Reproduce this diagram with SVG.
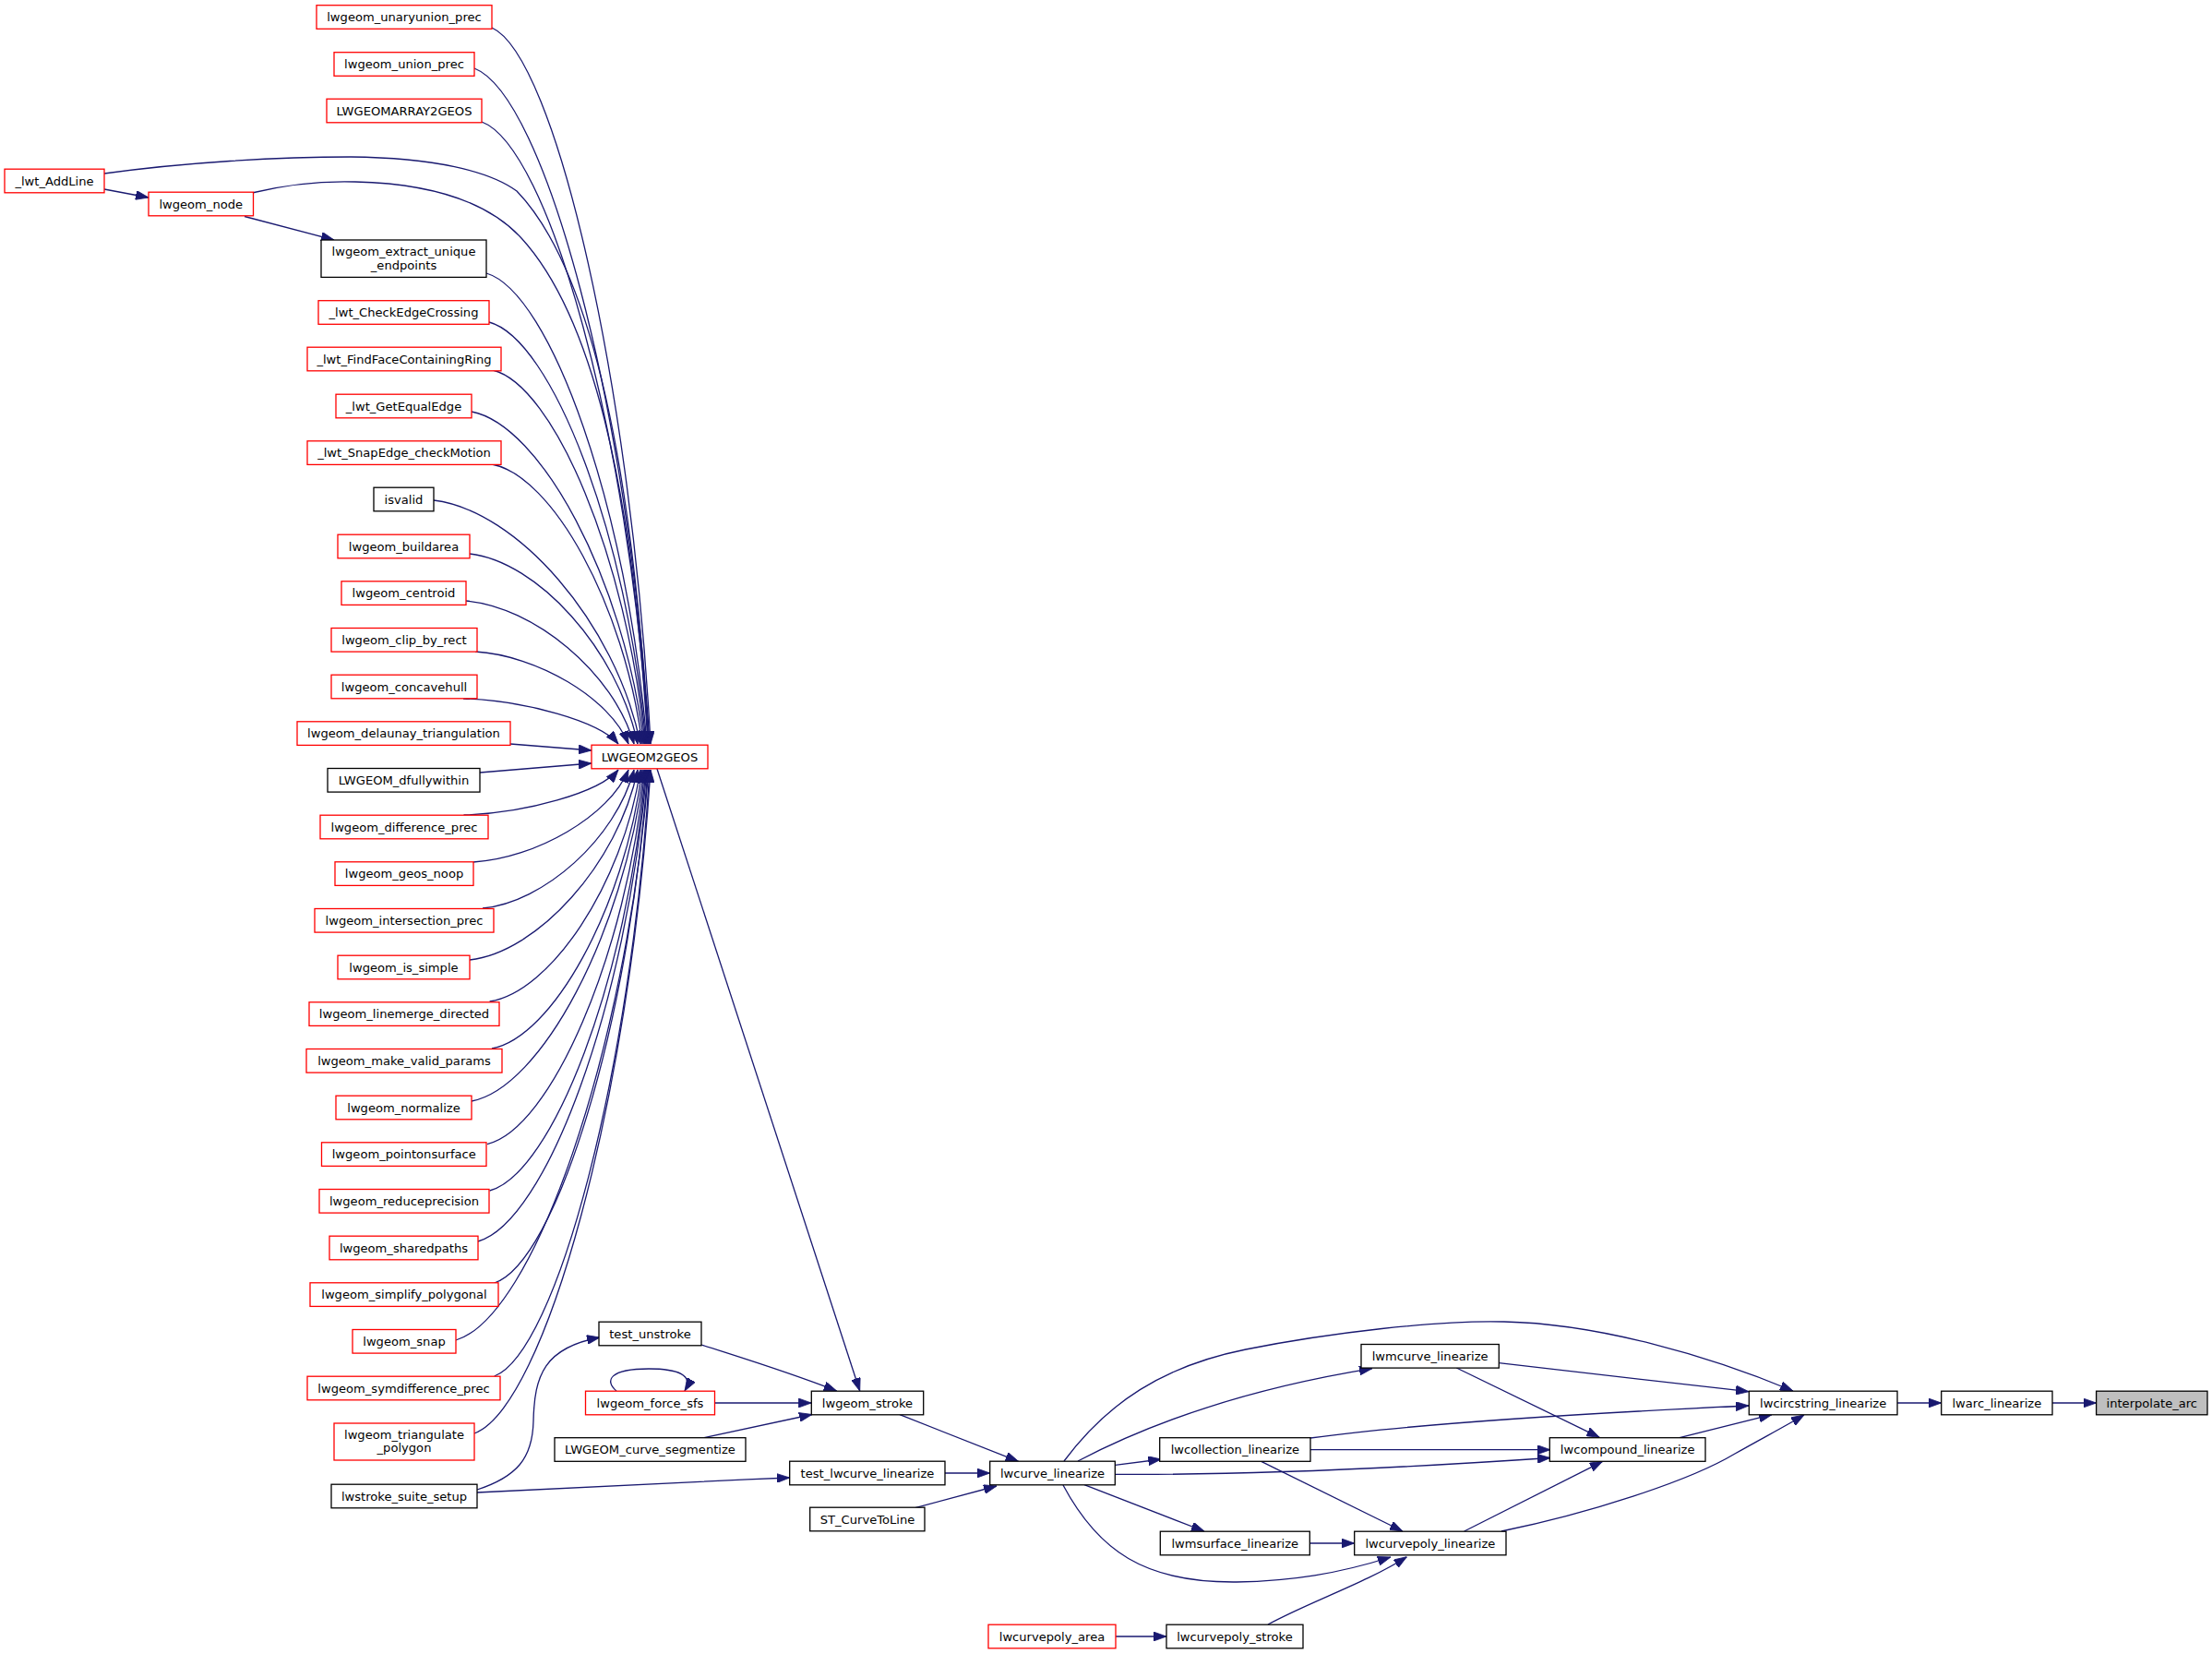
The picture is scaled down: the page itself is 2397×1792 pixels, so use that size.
<svg xmlns="http://www.w3.org/2000/svg" width="2397" height="1792" viewBox="0 0 2397 1792">
<style>
rect{fill:#ffffff;stroke:#000000;stroke-width:1.3}
rect.r{stroke:#ff0000}
rect.root{fill:#bfbfbf}
text{font-family:"DejaVu Sans","Liberation Sans",sans-serif;font-size:13.1px;fill:#000000;text-anchor:middle}
#edges path{fill:none;stroke:#191970;stroke-width:1.3;marker-end:url(#arr)}
</style>
<defs>
<marker id="arr" viewBox="0 0 14 10" markerWidth="14" markerHeight="10" refX="14" refY="5" orient="auto" markerUnits="userSpaceOnUse">
<path d="M0,0 L14,5 L0,10 Z" fill="#191970" stroke="#191970" stroke-width="0.8"/>
</marker>
</defs>
<rect x="0" y="0" width="2397" height="1792" style="fill:#ffffff;stroke:none"/>
<g id="edges">
<path d="M113,205 L161,214"/>
<path d="M265,234.5 L362,260"/>
<path d="M113,188 C200,176 300,170 380,170 C470,171 530,185 560,207 C640,290 685,500 703,806"/>
<path d="M273,209 C310,200 350,196 385,197 C470,199 530,220 565,258 C640,340 685,520 702,806"/>
<path d="M533,30 C601.8,61 684.4,418 705,806"/>
<path d="M514,74 C590,103.3 681.2,440 704,806"/>
<path d="M522,132 C594.4,159 681.3,469 703,806"/>
<path d="M527,296 C596.6,316.4 680.1,551 701,806"/>
<path d="M530,349 C598,367.3 679.6,577.5 700,806"/>
<path d="M534,401 C600,417.2 679.2,603.5 699,806"/>
<path d="M511,446 C585.8,460.4 675.6,626 698,806"/>
<path d="M533,503 C598.2,515 676.4,654.5 696,806"/>
<path d="M470,542 C559.6,552.6 667.1,674 694,806"/>
<path d="M509,600 C581.8,608.2 669.2,703 691,806"/>
<path d="M505,651 C577.8,657.2 665.2,728.5 687,806"/>
<path d="M515,706 C581.4,710 661.1,756 681,806"/>
<path d="M502,757 C569.2,759 649.8,781.5 670,806"/>
<path d="M553,806 L641,813"/>
<path d="M520,837 L641,827"/>
<path d="M502.5,883 C569.5,881 649.9,858.5 670,834"/>
<path d="M513,934 C580.2,930 660.8,884 681,834"/>
<path d="M523,984 C588.6,978 667.3,909 687,834"/>
<path d="M509,1040 C581.8,1031.8 669.2,937 691,834"/>
<path d="M530.6,1085 C596,1075 674.4,959.5 694,834"/>
<path d="M533,1136 C598.2,1124 676.4,985 696,834"/>
<path d="M511,1193 C585.8,1178.6 675.6,1013.5 698,834"/>
<path d="M528,1239.6 C596.4,1223.4 678.5,1037 699,834"/>
<path d="M530.6,1290 C598.4,1271.8 679.7,1062 700,834"/>
<path d="M518,1345 C591.2,1324.6 679,1089.5 701,834"/>
<path d="M535.7,1390 C602.2,1367.8 682,1112 702,834"/>
<path d="M494,1452 C577.6,1427.3 677.9,1143 703,834"/>
<path d="M535.7,1491 C603,1464.7 683.8,1162.5 704,834"/>
<path d="M514,1553 C590.4,1524.2 682.1,1193.5 705,834"/>
<path d="M712,833 L931.7,1507"/>
<path d="M760,1457 C800,1470 850,1485 906.7,1507"/>
<path d="M668,1507 C655,1496 660,1483 703,1483 C735,1483 752,1490 742,1507"/>
<path d="M774.5,1520 L879.3,1520"/>
<path d="M763,1557.7 L880,1532.5"/>
<path d="M975,1532.7 L1103.6,1583.3"/>
<path d="M517,1614 C560,1600 577,1580 578,1540 C579,1490 590,1460 650,1449"/>
<path d="M517,1617 C650,1611 750,1605 855.7,1601"/>
<path d="M1024,1596 L1072.7,1596"/>
<path d="M991.7,1633.7 L1080,1610"/>
<path d="M1153,1583 C1200,1520 1260,1480 1350,1462 C1440,1444 1560,1430 1630,1432 C1730,1434 1850,1468 1943,1507"/>
<path d="M1168,1583 C1250,1540 1350,1505 1487,1482.7"/>
<path d="M1208.3,1587.3 L1258.3,1581"/>
<path d="M1208.3,1597.3 C1300,1598 1450,1595 1680,1579.5"/>
<path d="M1175,1608.7 L1305,1659"/>
<path d="M1152,1609 C1190,1680 1240,1715 1340,1714 C1400,1713 1450,1705 1507,1687"/>
<path d="M1420,1558 C1530,1543 1700,1532 1895,1523"/>
<path d="M1420,1570.7 L1680,1570.7"/>
<path d="M1366.7,1583.3 L1520,1659"/>
<path d="M1624.3,1476.7 L1895,1507.7"/>
<path d="M1578.3,1482 L1733.3,1557.3"/>
<path d="M1419.3,1672 L1467.7,1672"/>
<path d="M1586.7,1659 L1736.7,1583.3"/>
<path d="M1627,1659 C1720,1640 1830,1605 1880,1575 C1910,1558 1935,1545 1955,1533"/>
<path d="M1820,1557.7 L1920,1532.7"/>
<path d="M2056,1520 L2103.7,1520"/>
<path d="M2224,1520 L2271.6,1520"/>
<path d="M1209,1773 L1264,1773"/>
<path d="M1374,1760 C1420,1735 1480,1715 1524.5,1686.7"/>
</g>
<g id="n_unaryunion"><rect class="r" x="343" y="5.7" width="190" height="25.6"/><text x="438" y="23">lwgeom_unaryunion_prec</text></g>
<g id="n_union_prec"><rect class="r" x="362" y="56.7" width="152" height="25.6"/><text x="438" y="74">lwgeom_union_prec</text></g>
<g id="n_array2geos"><rect class="r" x="354" y="107.2" width="168" height="25.6"/><text x="438" y="124.5">LWGEOMARRAY2GEOS</text></g>
<g id="n_addline"><rect class="r" x="5" y="183.2" width="108" height="25.6"/><text x="59" y="200.5">_lwt_AddLine</text></g>
<g id="n_node"><rect class="r" x="161" y="208.2" width="113.5" height="25.6"/><text x="217.75" y="225.5">lwgeom_node</text></g>
<g id="n_extract"><rect x="348" y="260" width="179" height="40.4"/><text x="437.5" y="277">lwgeom_extract_unique</text><text x="437.5" y="291.5">_endpoints</text></g>
<g id="n_checkedge"><rect class="r" x="345" y="325.7" width="185" height="25.6"/><text x="437.5" y="343">_lwt_CheckEdgeCrossing</text></g>
<g id="n_findface"><rect class="r" x="333" y="376.2" width="210" height="25.6"/><text x="438" y="393.5">_lwt_FindFaceContainingRing</text></g>
<g id="n_getequal"><rect class="r" x="364" y="427.2" width="147" height="25.6"/><text x="437.5" y="444.5">_lwt_GetEqualEdge</text></g>
<g id="n_snapedge"><rect class="r" x="333" y="477.8" width="210" height="25.6"/><text x="438" y="495.1">_lwt_SnapEdge_checkMotion</text></g>
<g id="n_isvalid"><rect x="405" y="528.2" width="65" height="25.6"/><text x="437.5" y="545.5">isvalid</text></g>
<g id="n_buildarea"><rect class="r" x="366" y="579.2" width="143" height="25.6"/><text x="437.5" y="596.5">lwgeom_buildarea</text></g>
<g id="n_centroid"><rect class="r" x="370" y="629.8" width="135" height="25.6"/><text x="437.5" y="647.1">lwgeom_centroid</text></g>
<g id="n_clip"><rect class="r" x="359" y="680.5" width="158" height="25.6"/><text x="438" y="697.8">lwgeom_clip_by_rect</text></g>
<g id="n_concave"><rect class="r" x="359" y="731.2" width="158" height="25.6"/><text x="438" y="748.5">lwgeom_concavehull</text></g>
<g id="n_delaunay"><rect class="r" x="322" y="781.8" width="231" height="25.6"/><text x="437.5" y="799.1">lwgeom_delaunay_triangulation</text></g>
<g id="n_dfully"><rect x="355" y="832.5" width="165" height="25.6"/><text x="437.5" y="849.8">LWGEOM_dfullywithin</text></g>
<g id="n_difference"><rect class="r" x="347" y="883.2" width="182" height="25.6"/><text x="438" y="900.5">lwgeom_difference_prec</text></g>
<g id="n_geosnoop"><rect class="r" x="363" y="933.8" width="150" height="25.6"/><text x="438" y="951.1">lwgeom_geos_noop</text></g>
<g id="n_intersection"><rect class="r" x="341" y="984.5" width="194" height="25.6"/><text x="438" y="1001.8">lwgeom_intersection_prec</text></g>
<g id="n_issimple"><rect class="r" x="366" y="1035.2" width="143" height="25.6"/><text x="437.5" y="1052.5">lwgeom_is_simple</text></g>
<g id="n_linemerge"><rect class="r" x="335" y="1085.8" width="206" height="25.6"/><text x="438" y="1103.1">lwgeom_linemerge_directed</text></g>
<g id="n_makevalid"><rect class="r" x="332" y="1136.5" width="212" height="25.6"/><text x="438" y="1153.8">lwgeom_make_valid_params</text></g>
<g id="n_normalize"><rect class="r" x="364" y="1187.2" width="147" height="25.6"/><text x="437.5" y="1204.5">lwgeom_normalize</text></g>
<g id="n_pointonsurface"><rect class="r" x="348.5" y="1237.8" width="178.5" height="25.6"/><text x="437.75" y="1255.1">lwgeom_pointonsurface</text></g>
<g id="n_reduceprecision"><rect class="r" x="346" y="1288.5" width="184" height="25.6"/><text x="438" y="1305.8">lwgeom_reduceprecision</text></g>
<g id="n_sharedpaths"><rect class="r" x="357" y="1339.2" width="161" height="25.6"/><text x="437.5" y="1356.5">lwgeom_sharedpaths</text></g>
<g id="n_simplify"><rect class="r" x="336" y="1389.8" width="204" height="25.6"/><text x="438" y="1407.1">lwgeom_simplify_polygonal</text></g>
<g id="n_snap"><rect class="r" x="382" y="1440.5" width="112" height="25.6"/><text x="438" y="1457.8">lwgeom_snap</text></g>
<g id="n_symdiff"><rect class="r" x="333" y="1491.2" width="209" height="25.6"/><text x="437.5" y="1508.5">lwgeom_symdifference_prec</text></g>
<g id="n_triangulate"><rect class="r" x="362" y="1542" width="152" height="40"/><text x="438" y="1558.5">lwgeom_triangulate</text><text x="438" y="1573">_polygon</text></g>
<g id="n_suitesetup"><rect x="359" y="1608.2" width="158" height="25.6"/><text x="438" y="1625.5">lwstroke_suite_setup</text></g>
<g id="n_lwgeom2geos"><rect class="r" x="641" y="807.2" width="126" height="25.6"/><text x="704" y="824.5">LWGEOM2GEOS</text></g>
<g id="n_testunstroke"><rect x="649" y="1432.2" width="111" height="25.6"/><text x="704.5" y="1449.5">test_unstroke</text></g>
<g id="n_forcesfs"><rect class="r" x="634.5" y="1507.2" width="140" height="25.6"/><text x="704.5" y="1524.5">lwgeom_force_sfs</text></g>
<g id="n_segmentize"><rect x="601" y="1557.7" width="207" height="25.6"/><text x="704.5" y="1575">LWGEOM_curve_segmentize</text></g>
<g id="n_stroke"><rect x="879.3" y="1507.2" width="121.4" height="25.6"/><text x="940" y="1524.5">lwgeom_stroke</text></g>
<g id="n_testlwcurve"><rect x="855.7" y="1583.2" width="168.3" height="25.6"/><text x="940" y="1600.5">test_lwcurve_linearize</text></g>
<g id="n_stcurvetoline"><rect x="877.7" y="1633.2" width="124.3" height="25.6"/><text x="940" y="1650.5">ST_CurveToLine</text></g>
<g id="n_lwcurve"><rect x="1072.7" y="1583.2" width="135.6" height="25.6"/><text x="1140.5" y="1600.5">lwcurve_linearize</text></g>
<g id="n_lwmcurve"><rect x="1475" y="1456.5" width="149.3" height="25.6"/><text x="1549.7" y="1473.8">lwmcurve_linearize</text></g>
<g id="n_lwcollection"><rect x="1256.7" y="1557.7" width="163.3" height="25.6"/><text x="1338.4" y="1575">lwcollection_linearize</text></g>
<g id="n_lwmsurface"><rect x="1257.3" y="1659.2" width="162" height="25.6"/><text x="1338.3" y="1676.5">lwmsurface_linearize</text></g>
<g id="n_lwcurvepolylin"><rect x="1467.7" y="1659.2" width="164.3" height="25.6"/><text x="1549.9" y="1676.5">lwcurvepoly_linearize</text></g>
<g id="n_lwcurvepolyarea"><rect class="r" x="1071" y="1760.2" width="138" height="25.6"/><text x="1140" y="1777.5">lwcurvepoly_area</text></g>
<g id="n_lwcurvepolystroke"><rect x="1264" y="1760.2" width="148" height="25.6"/><text x="1338" y="1777.5">lwcurvepoly_stroke</text></g>
<g id="n_lwcompound"><rect x="1679.3" y="1557.7" width="168.7" height="25.6"/><text x="1763.7" y="1575">lwcompound_linearize</text></g>
<g id="n_lwcircstring"><rect x="1895.3" y="1507.2" width="160.7" height="25.6"/><text x="1975.7" y="1524.5">lwcircstring_linearize</text></g>
<g id="n_lwarc"><rect x="2103.7" y="1507.2" width="120.3" height="25.6"/><text x="2163.9" y="1524.5">lwarc_linearize</text></g>
<g id="n_interpolatearc"><rect class="root" x="2271.6" y="1507.2" width="120.4" height="25.6"/><text x="2331.8" y="1524.5">interpolate_arc</text></g>
</svg>
